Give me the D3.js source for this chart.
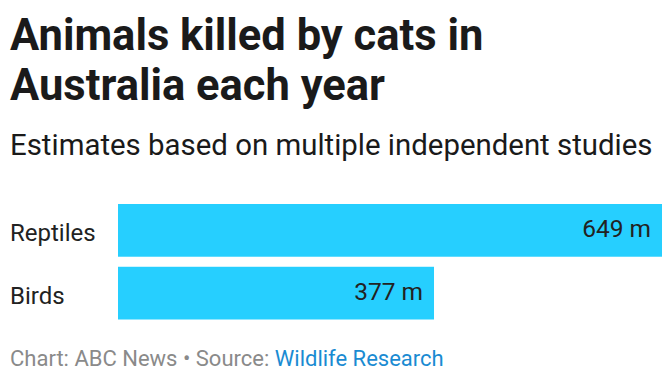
<!DOCTYPE html>
<html>
<head>
<meta charset="utf-8">
<script src="https://cdn.jsdelivr.net/npm/d3@7"></script>
<style>
  body { margin: 0; background: #fff; font-family: Roboto, sans-serif; }
</style>
</head>
<body>
<div id="chart"></div>
<script>
let categories = ["Reptiles", "Birds"];
let values = [649, 377];
let valueLabels = ["649 m", "377 m"];

let width = 672, height = 384;
let margin = {left: 118, right: 10};

let svg = d3.select("#chart")
    .append("svg")
    .attr("width", width)
    .attr("height", height);

svg.append("text")
    .attr("x", 10).attr("y", 50)
    .attr("font-size", 43.5).attr("font-weight", 700).attr("fill", "#1a1a1a")
    .text("Animals killed by cats in");
svg.append("text")
    .attr("x", 10).attr("y", 100)
    .attr("font-size", 43.5).attr("font-weight", 700).attr("fill", "#1a1a1a")
    .text("Australia each year");

svg.append("text")
    .attr("x", 10).attr("y", 155)
    .attr("font-size", 29.4).attr("fill", "#1a1a1a")
    .text("Estimates based on multiple independent studies");

let x = d3.scaleLinear()
    .domain([0, 649])
    .range([margin.left, width - margin.right]);

let y = d3.scaleBand()
    .domain(categories)
    .range([204, 319.5])
    .paddingInner(0.16);

let rows = svg.selectAll("g.row")
    .data(categories)
    .enter()
    .append("g")
    .attr("class", "row");

rows.append("rect")
    .attr("x", x(0))
    .attr("y", d => y(d))
    .attr("width", (d, i) => x(values[i]) - x(0))
    .attr("height", y.bandwidth())
    .attr("fill", "#26cfff");

rows.append("text")
    .attr("x", 10)
    .attr("y", d => y(d) + y.bandwidth() / 2)
    .attr("dy", "0.45em")
    .attr("font-size", 24)
    .attr("fill", "#222")
    .text(d => d);

rows.append("text")
    .attr("x", (d, i) => x(values[i]) - 11)
    .attr("y", d => y(d) + y.bandwidth() / 2)
    .attr("dy", "0.27em")
    .attr("text-anchor", "end")
    .attr("font-size", 24.5)
    .attr("fill", "#222")
    .text((d, i) => valueLabels[i]);

let foot = svg.append("text")
    .attr("x", 10).attr("y", 366)
    .attr("font-size", 22);
foot.append("tspan").attr("fill", "#8a8a8a").text("Chart: ABC News • Source: ");
foot.append("tspan").attr("fill", "#1a8bd2").text("Wildlife Research");
</script>
</body>
</html>
